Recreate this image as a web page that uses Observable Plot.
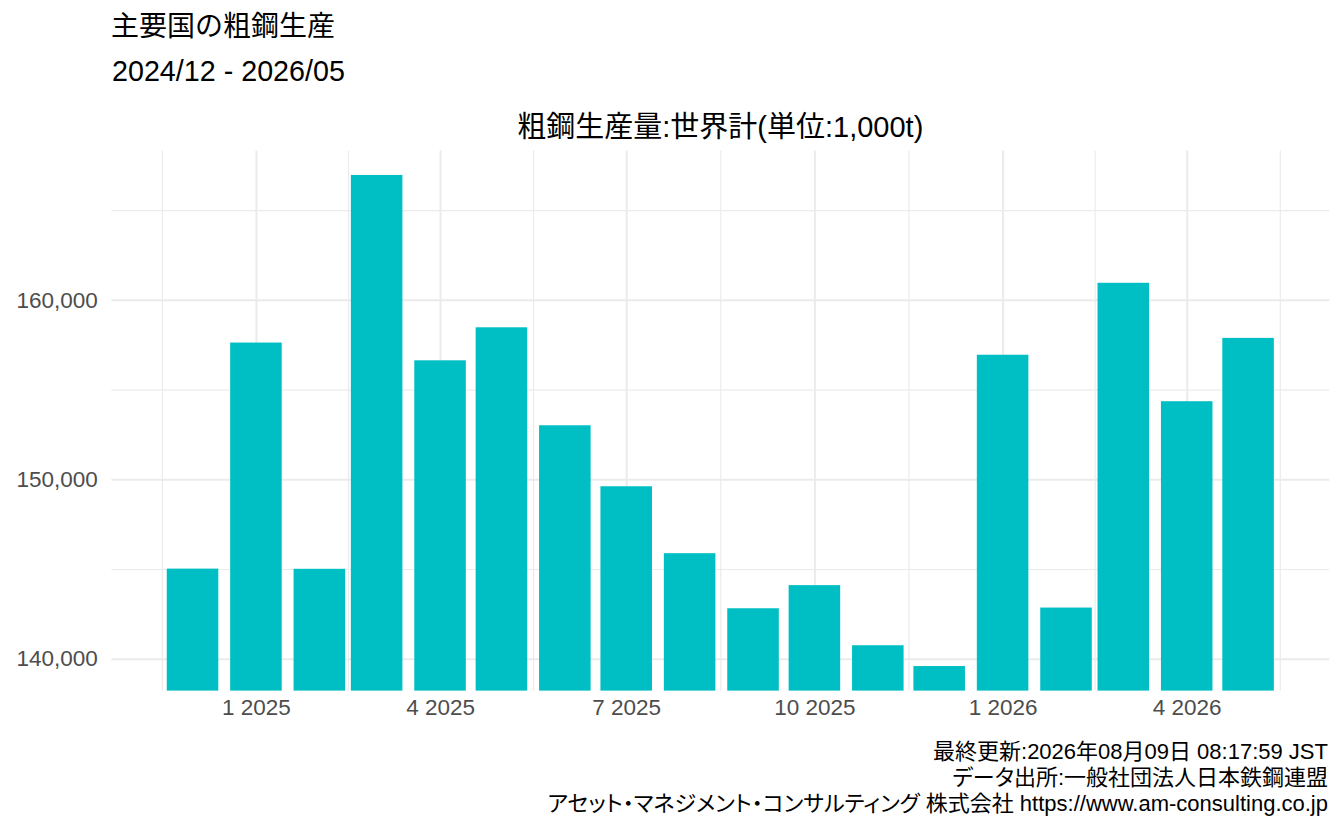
<!DOCTYPE html>
<html>
<head>
<meta charset="utf-8">
<script src="https://cdn.jsdelivr.net/npm/d3@7"></script>
<script src="https://cdn.jsdelivr.net/npm/@observablehq/plot@0.6"></script>
<style>
  html, body { margin: 0; padding: 0; background: #fff; overflow: hidden; }
  #wrap { position: relative; width: 1344px; height: 830px;
    font-family: "Liberation Sans", Arial, "Noto Sans CJK JP", sans-serif; color: #000; }
  .abs { position: absolute; white-space: nowrap; }
  #t1 { left: 111px; top: 12.8px; font-size: 28px; line-height: 28px; }
  #t2 { left: 112px; top: 57px; font-size: 28.7px; line-height: 28px; }
  #t3 { left: 111.4px; width: 1217.8px; text-align: center; top: 112.5px; font-size: 29px; line-height: 28px; }
  #chart { left: 0; top: 140px; }
  #cap { right: 16px; top: 739px; text-align: right; font-size: 22px; line-height: 26px;
    font-feature-settings: "palt"; }
</style>
</head>
<body>
<div id="wrap">
  <div id="t1" class="abs"></div>
  <div id="t2" class="abs"></div>
  <div id="t3" class="abs"></div>
  <div id="chart" class="abs"></div>
  <div id="cap" class="abs"></div>
</div>
<script>
// ---- data ----
const months = ["2024-12","2025-01","2025-02","2025-03","2025-04","2025-05","2025-06","2025-07","2025-08",
                "2025-09","2025-10","2025-11","2025-12","2026-01","2026-02","2026-03","2026-04","2026-05"];
const production = [145020, 157620, 145010, 166960, 156630, 158470, 153010, 149610, 145880,
                    142810, 144100, 140750, 139590, 156940, 142850, 160950, 154350, 157880];
const yTicks = [140000, 150000, 160000];
const yMinorTicks = [145000, 155000, 165000];
const xBreakMonths = ["2024-10","2025-01","2025-04","2025-07","2025-10","2026-01","2026-04","2026-07"];

const titleText = "主要国の粗鋼生産";
const subtitleText = "2024/12 - 2026/05";
const plotTitleText = "粗鋼生産量:世界計(単位:1,000t)";
const captionLines = [
  "最終更新:2026年08月09日 08:17:59 JST",
  "データ出所:一般社団法人日本鉄鋼連盟",
  "アセット・マネジメント・コンサルティング 株式会社 https://www.am-consulting.co.jp"
];

// ---- derived ----
const parse = s => new Date(s + "-01T00:00:00Z");
const data = months.map((m, i) => ({date: parse(m), value: production[i]}));
const diffs = data.slice(1).map((d, i) => d.date - data[i].date);
const half = 0.45 * d3.min(diffs);
const xa = +data[0].date - half, xb = +data[data.length - 1].date + half;
const xspan = xb - xa;
const xDomain = [new Date(xa - 0.05 * xspan), new Date(xb + 0.05 * xspan)];
const vmin = d3.min(production), vmax = d3.max(production);
const lo = vmin - 0.05 * (vmax - vmin), hi = vmax + 0.05 * (vmax - vmin);

const breaks = xBreakMonths.map(parse);
const inX = d => d >= xDomain[0] && d <= xDomain[1];
const xMajor = breaks.filter(inX);
const xMinor = breaks.slice(1).map((d, i) => new Date((+d + +breaks[i]) / 2)).filter(inX);
const fmtMonth = d => `${d.getUTCMonth() + 1} ${d.getUTCFullYear()}`;

document.getElementById("t1").textContent = titleText;
document.getElementById("t2").textContent = subtitleText;
document.getElementById("t3").textContent = plotTitleText;
document.getElementById("cap").innerHTML = captionLines.map(s => `<div>${s}</div>`).join("");

const grid = "#ebebeb";
const chart = Plot.plot({
  width: 1344,
  height: 595,
  marginLeft: 111.4,
  marginRight: 14.8,
  marginTop: 10.4,
  marginBottom: 44.4,
  x: {type: "utc", domain: xDomain, axis: null},
  y: {domain: [lo, hi], axis: null},
  style: {fontFamily: '"Liberation Sans", Arial, "Noto Sans CJK JP", sans-serif', background: "transparent", overflow: "visible"},
  marks: [
    Plot.ruleY(yMinorTicks, {y: d => d, stroke: grid, strokeWidth: 1.2}),
    Plot.ruleX(xMinor, {x: d => d, stroke: grid, strokeWidth: 1.2}),
    Plot.ruleY(yTicks, {y: d => d, stroke: grid, strokeWidth: 2}),
    Plot.ruleX(xMajor, {x: d => d, stroke: grid, strokeWidth: 2}),
    Plot.rect(data, {
      x1: d => new Date(+d.date - half),
      x2: d => new Date(+d.date + half),
      y1: () => lo,
      y2: d => d.value,
      fill: "#00BFC4"
    }),
    Plot.text(yTicks, {y: d => d, frameAnchor: "left", textAnchor: "end", dx: -14,
      text: d => d3.format(",")(d), fontSize: 22.5, fill: "#4d4d4d"}),
    Plot.text(xMajor, {x: d => d, frameAnchor: "bottom", dy: 24,
      text: fmtMonth, fontSize: 22.5, fill: "#4d4d4d"})
  ]
});
document.getElementById("chart").appendChild(chart);
</script>
</body>
</html>
